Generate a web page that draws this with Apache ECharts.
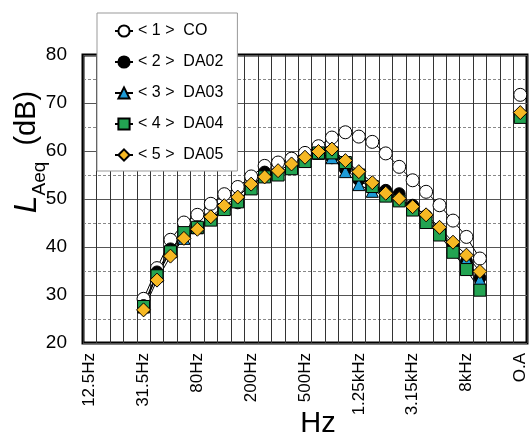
<!DOCTYPE html>
<html>
<head>
<meta charset="UTF-8">
<title>LAeq spectrum</title>
<script src="https://cdn.jsdelivr.net/npm/echarts@6/dist/echarts.min.js"></script>
<style>
    body { margin: 0; background: #fff; }
    #chart { width: 531px; height: 435px; }
</style>
</head>
<body>
<div id="chart"></div>
<script>
    // 1/3オクターブ帯域 + O.A
    const bands = ['12.5Hz', '16Hz', '20Hz', '25Hz', '31.5Hz', '40Hz', '50Hz', '63Hz', '80Hz', '100Hz',
        '125Hz', '160Hz', '200Hz', '250Hz', '315Hz', '400Hz', '500Hz', '630Hz', '800Hz', '1kHz',
        '1.25kHz', '1.6kHz', '2kHz', '2.5kHz', '3.15kHz', '4kHz', '5kHz', '6.3kHz', '8kHz', '10kHz',
        '12.5kHz', '16kHz', 'O.A'];
    const firstBand = '31.5Hz';   // 測定値は 31.5Hz〜10kHz

    const seriesNames = ['CO', 'DA02', 'DA03', 'DA04', 'DA05'];

    // 31.5Hz - 10kHz
    const co   = [29.2, 35.6, 41.5, 45.1, 46.7, 49.0, 51.0, 52.5, 54.7, 56.9, 57.6, 58.4, 59.6, 61.0, 62.8, 63.9, 63.0, 61.9, 59.5, 56.7, 53.9, 51.5, 48.7, 45.5, 42.1, 37.6];
    const da02 = [27.8, 34.8, 39.6, 42.4, 44.2, 45.9, 47.9, 49.2, 52.4, 55.6, 55.4, 56.6, 58.1, 59.6, 58.6, 56.2, 54.0, 52.1, 51.8, 51.1, 48.7, 46.5, 43.5, 40.4, 37.0, 33.6];
    const da03 = [27.5, 34.3, 39.3, 41.8, 44.0, 45.8, 48.0, 49.6, 52.3, 55.0, 55.3, 56.5, 58.0, 59.5, 58.6, 55.7, 53.0, 51.6, 50.8, 49.9, 48.0, 45.6, 43.0, 39.8, 37.4, 33.2];
    const da04 = [27.6, 34.0, 39.0, 43.0, 44.1, 45.6, 47.8, 49.4, 52.1, 54.6, 55.0, 56.3, 57.8, 59.6, 59.6, 57.6, 55.0, 52.6, 50.6, 49.6, 47.7, 45.1, 42.5, 38.9, 35.3, 31.0];
    const da05 = [26.9, 33.1, 38.1, 41.8, 43.7, 46.3, 48.6, 50.4, 53.1, 54.6, 55.9, 57.3, 58.7, 59.9, 60.4, 58.0, 55.7, 53.4, 51.2, 50.1, 48.4, 46.7, 44.1, 41.0, 38.3, 34.9];
    // O.A
    const overall = [71.7, 67.5, 67.3, 67.0, 68.0];

    const yTicks = [20, 30, 40, 50, 60, 70, 80];

    const font = '"Liberation Sans", Arial, sans-serif';

    function buildData(values, oa) {
        const start = bands.indexOf(firstBand);
        const arr = bands.map(() => null);
        values.forEach((v, i) => { arr[start + i] = v; });
        arr[bands.length - 1] = oa;
        return arr;
    }

    const styles = [
        { symbol: 'circle', size: 13, color: '#ffffff' },
        { symbol: 'circle', size: 12, color: '#000000' },
        { symbol: 'triangle', size: 12, color: '#1e9bd7' },
        { symbol: 'rect', size: 12, color: '#23a452' },
        { symbol: 'diamond', size: 14, color: '#f6b823' }
    ];
    const values = [co, da02, da03, da04, da05];

    const series = seriesNames.map((name, i) => ({
        name: name,
        type: 'line',
        data: buildData(values[i], overall[i]),
        connectNulls: false,
        showAllSymbol: true,
        symbol: styles[i].symbol,
        symbolSize: styles[i].size,
        lineStyle: { color: '#000', width: 1 },
        itemStyle: { color: styles[i].color, borderColor: '#000', borderWidth: 1 }
    }));

    const chart = echarts.init(document.getElementById('chart'));
    chart.setOption({
        animation: false,
        backgroundColor: '#fff',
        grid: {
            left: 83, right: 4, top: 55, bottom: 92,
            outerBoundsMode: 'none',
            containLabel: false,
            show: true, borderColor: '#000', borderWidth: 3
        },
        legend: {
            orient: 'vertical',
            left: 97, top: 13,
            padding: [10, 14, 8, 17],
            itemGap: 15,
            itemWidth: 18,
            itemHeight: 14,
            backgroundColor: '#fff',
            borderColor: '#999',
            borderWidth: 1,
            formatter: function (name) {
                return '< ' + (seriesNames.indexOf(name) + 1) + ' >  ' + name;
            },
            textStyle: { fontSize: 16, fontFamily: font, color: '#000', lineHeight: 16 },
            data: seriesNames
        },
        xAxis: {
            type: 'category',
            data: bands,
            boundaryGap: true,
            name: 'Hz',
            nameLocation: 'middle',
            nameMoveOverlap: false,
            nameGap: 66,
            nameTextStyle: { fontSize: 29, fontFamily: font, color: '#000', padding: [0, 0, 0, 26] },
            axisLine: { show: false },
            axisTick: { show: false },
            axisLabel: {
                interval: 3, rotate: 90, margin: 10,
                fontSize: 17, fontFamily: font, color: '#000'
            },
            splitLine: { show: true, interval: 0, lineStyle: { color: '#333', width: 1 } }
        },
        yAxis: {
            type: 'value',
            min: yTicks[0],
            max: yTicks[yTicks.length - 1],
            interval: 10,
            name: '{i|L}{s|Aeq}{n|  (dB)}',
            nameLocation: 'middle',
            nameMoveOverlap: false,
            nameGap: 34,
            nameTextStyle: {
                color: '#000',
                padding: [0, 0, 0, 94],
                rich: {
                    i: { fontSize: 32, fontStyle: 'italic', fontFamily: font, lineHeight: 44, verticalAlign: 'middle' },
                    s: { fontSize: 19, fontFamily: font, lineHeight: 19, verticalAlign: 'bottom' },
                    n: { fontSize: 29, fontFamily: font, lineHeight: 44, verticalAlign: 'middle' }
                }
            },
            axisLine: { show: false },
            axisTick: { show: false },
            axisLabel: { fontSize: 19, fontFamily: font, color: '#000', margin: 16 },
            splitLine: { show: true, lineStyle: { color: '#555', width: 1 } },
            minorTick: { show: false, splitNumber: 2 },
            minorSplitLine: { show: true, lineStyle: { color: '#888', width: 1, type: [3, 2] } }
        },
        series: series
    });
</script>
</body>
</html>
